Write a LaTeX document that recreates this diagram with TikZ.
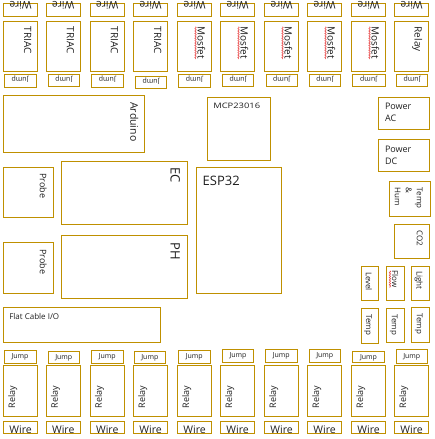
\documentclass[tikz,border=0pt]{standalone}
\usepackage{fontspec}
\setmainfont{Open Sans}
\usetikzlibrary{calc,decorations.pathmorphing}
\definecolor{gold}{HTML}{BF9000}
\definecolor{ink}{HTML}{1F1F1F}
\definecolor{squig}{HTML}{E84B4B}
\newcommand\bx[5]{\node[box,minimum width={(#4-#2)*1pt},minimum height={(#5-#3)*1pt}] (#1) at (#2,#3) {};}
\begin{document}
\begin{tikzpicture}[x=1pt,y=-1pt,
  box/.style={draw=gold,line width=1pt,inner sep=0pt,outer sep=0pt,anchor=north west},
  lbl/.style={inner sep=0pt,outer sep=0pt,text=ink,font=\fontsize{#1}{12}\selectfont},
  down/.style={rotate=-90,anchor=north west},
  up/.style={rotate=90,anchor=north west},
  squiggle/.style={draw=squig,line width=0.6pt,decorate,decoration={snake,amplitude=0.7pt,segment length=2.4pt}}]
\useasboundingbox (0,0) rectangle (435,439);

% ---------- top row ----------
\foreach \i/\x/\t in {1/3.3/TRIAC,2/46/TRIAC,3/90/TRIAC,4/133.3/TRIAC,5/177.3/Mosfet,6/220.3/Mosfet,7/264.3/Mosfet,8/307.3/Mosfet,9/351.3/Mosfet,10/394.3/Relay} {
  \bx{wt\i}{\x}{3.3}{\x+34.5}{16}
  \node[lbl=10.5,rotate=180,anchor=base] (wtl\i) at ($(wt\i.north)+(0,-1.8)$) {Wire};
  \bx{c\i}{\x}{21.3}{\x+34.5}{71.3}
  \node[lbl=10,down] (cl\i) at ($(c\i.north east)+(-6.5,5.4)$) {\t};
}
\foreach \i in {5,...,9}
  \draw[squiggle] ($(cl\i.south west)+(-2,0)$) -- ($(cl\i.south east)+(-2,0)$);

\foreach \i/\xa/\xb/\ya/\yb in {1/4/36/74/87.3,2/48.3/79.3/74/86,3/91.3/123.3/74/87.3,4/135.3/166.7/76/88.7,5/178.7/210/74/87.3,6/222.3/253.7/74/86.7,7/266/297.3/74/86.7,8/309.3/340.3/74/86.7,9/352.3/385/74/86.7,10/396.3/427.7/74/86.7} {
  \bx{jt\i}{\xa}{\ya}{\xb}{\yb}
  \node[lbl=7,rotate=180] (jtl\i) at ($(jt\i.center)+(0,-1.2)$) {Jump};
}

% ---------- middle ----------
\bx{ard}{3.3}{95.3}{144.3}{152.3}
\node[lbl=10.5,down] (ardl) at ($(ard.north east)+(-6,7)$) {Arduino};

\bx{mcp}{207.3}{97.3}{270.3}{160.3}
\node[lbl=7.5,anchor=north west] (mcpl) at ($(mcp.north west)+(6,6)$) {\scalebox{1.25}[1]{MCP23016}};

\bx{pac}{378.3}{97.3}{429.3}{129.3}
\node[lbl=9,anchor=north west,align=left,font=\fontsize{9}{11.7}\selectfont] (pacl) at ($(pac.north west)+(6.7,6)$) {Power\\AC};
\bx{pdc}{378.3}{139.3}{429.3}{171}
\node[lbl=9,anchor=north west,align=left,font=\fontsize{9}{11.7}\selectfont] (pdcl) at ($(pdc.north west)+(6.7,7)$) {Power\\DC};

\bx{th}{389.3}{181}{430}{216}
\node[lbl=8,down,align=left,font=\fontsize{8}{11}\selectfont] (thl) at ($(th.north east)+(-7.3,6.7)$) {Temp\\\&\\Hum};

\bx{esp}{196.3}{167.3}{281.3}{293.3}
\node[lbl=13,anchor=north west] (espl) at ($(esp.north west)+(6.4,8.7)$) {ESP32};

\bx{ec}{61.3}{161.3}{187.3}{224.3}
\node[lbl=13,down] (ecl) at ($(ec.north east)+(-7.3,6.4)$) {EC};
\bx{ph}{61.3}{235.3}{187.3}{298.3}
\node[lbl=13,down] (phl) at ($(ph.north east)+(-7.3,7.4)$) {PH};

\bx{pr1}{3.3}{167.3}{53.3}{217}
\node[lbl=9,down] (pr1l) at ($(pr1.north east)+(-6.6,6)$) {Probe};
\bx{pr2}{3.3}{242.3}{53.3}{293.3}
\node[lbl=9,down] (pr2l) at ($(pr2.north east)+(-6.6,7)$) {Probe};

\bx{flat}{3.3}{307.3}{160.7}{342.3}
\node[lbl=8,anchor=north west] (flatl) at ($(flat.north west)+(6,6)$) {Flat Cable I/O};

\bx{co}{394.3}{224.3}{429.3}{258.3}
\node[lbl=8,down] (col) at ($(co.north east)+(-6.6,6.4)$) {CO2};

\bx{lev}{361.3}{266.3}{378.7}{300.3}
\node[lbl=8,down] (levl) at ($(lev.north east)+(-6.8,5.7)$) {Level};
\bx{flow}{386.3}{266.3}{404.3}{300.3}
\node[lbl=8,down] (flowl) at ($(flow.north east)+(-6.2,4.5)$) {Flow};
\draw[squiggle] ($(flowl.south west)+(-2,0)$) -- ($(flowl.south east)+(-2,0)$);
\bx{light}{411.3}{266.3}{429.3}{300.3}
\node[lbl=8,down] (lightl) at ($(light.north east)+(-6.6,5)$) {Light};

\bx{t1}{361.3}{308.3}{378.7}{343.3}
\node[lbl=8,down] (t1l) at ($(t1.north east)+(-6.8,6)$) {Temp};
\bx{t2}{386.3}{308.3}{404.3}{342.3}
\node[lbl=8,down] (t2l) at ($(t2.north east)+(-6.8,6)$) {Temp};
\bx{t3}{411.3}{307.3}{429.3}{342.3}
\node[lbl=8,down] (t3l) at ($(t3.north east)+(-6.8,6)$) {Temp};

% ---------- bottom row ----------
\foreach \i/\xa/\xb/\ya/\yb in {1/4/36/350/363.3,2/48.3/79.3/351.7/363.7,3/91.3/123.3/350/363.3,4/134/165.7/351.7/363.7,5/178.3/210.3/350/363.3,6/222.3/253.7/349.3/362,7/265.3/297.3/349.3/362,8/309.3/340.3/349.3/362.3,9/352.3/384.7/351/362.7,10/396.3/427.3/349.3/363} {
  \bx{jb\i}{\xa}{\ya}{\xb}{\yb}
  \node[lbl=7] (jbl\i) at ($(jb\i.center)+(0,0.5)$) {Jump};
}
\foreach \i/\x in {1/3.3,2/46,3/90,4/133.3,5/177.3,6/220.3,7/264.3,8/307.3,9/351.3,10/394.3} {
  \bx{r\i}{\x}{365}{\x+34.5}{416.3}
  \node[lbl=9,up] (rl\i) at ($(r\i.south west)+(5,-8)$) {Relay};
  \bx{wb\i}{\x}{421.5}{\x+34.5}{433.3}
  \node[lbl=10.5,anchor=base] (wbl\i) at ($(wb\i.south)+(0,0.3)$) {Wire};
}
\end{tikzpicture}
\end{document}
